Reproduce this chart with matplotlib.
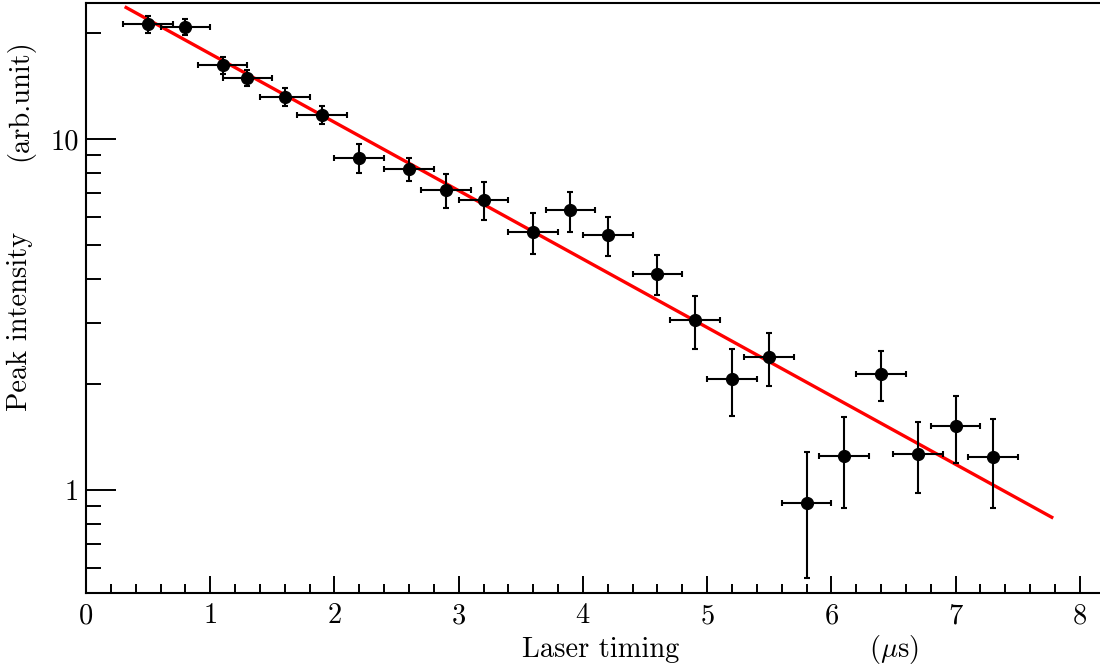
import matplotlib
matplotlib.use("Agg")
import matplotlib.pyplot as plt
from matplotlib.ticker import FixedLocator, NullFormatter, FixedFormatter

plt.rcParams['font.family'] = 'serif'
plt.rcParams['font.serif'] = ['cmr10']
plt.rcParams['mathtext.fontset'] = 'cm'
plt.rcParams['axes.formatter.use_mathtext'] = True

# laser timing (us) and peak intensity with errors
timing = [0.5, 0.8, 1.1, 1.3, 1.6, 1.9, 2.2, 2.6, 2.9, 3.2, 3.6, 3.9,
          4.2, 4.6, 4.9, 5.2, 5.5, 5.8, 6.1, 6.4, 6.7, 7.0, 7.3]
timing_err = [0.2] * len(timing)
intensity = [21.2, 20.9, 16.2, 14.95, 13.2, 11.7, 8.83, 8.21, 7.14, 6.70, 5.42, 6.26,
             5.32, 4.13, 3.05, 2.07, 2.39, 0.92, 1.25, 2.14, 1.27, 1.52, 1.24]
intensity_err = [1.2, 1.05, 0.9, 0.82, 0.77, 0.7, 0.84, 0.64, 0.79, 0.84, 0.73, 0.82,
                 0.67, 0.53, 0.53, 0.45, 0.41, 0.36, 0.36, 0.35, 0.29, 0.33, 0.35]

# exponential fit, straight on log scale: end points
fit_x = [0.323, 7.774]
fit_y = [23.7, 0.836]

fig = plt.figure(figsize=(11, 6.7), dpi=100)
ax = fig.add_axes([86/1100, 1 - 593/670, 1 - 86/1100 + 0.002, (593 - 3)/670])

ax.plot(fit_x, fit_y, color='#ff0000', lw=2.4, zorder=3)
ax.errorbar(timing, intensity, xerr=timing_err, yerr=intensity_err,
            fmt='o', color='black', ms=8.5, elinewidth=1.5, capsize=2.3,
            capthick=1.5, zorder=4)

ax.set_yscale('log')
ax.set_xlim(0, 8.18)
ax.set_ylim(0.5087, 24.41)

ax.xaxis.set_major_locator(FixedLocator(range(0, 9)))
ax.xaxis.set_minor_locator(FixedLocator([i * 0.2 for i in range(0, 41) if i % 5 != 0]))
ax.yaxis.set_major_locator(FixedLocator([1, 10]))
ax.yaxis.set_major_formatter(FixedFormatter(['1', '10']))
ax.yaxis.set_minor_locator(FixedLocator([0.6, 0.7, 0.8, 0.9, 2, 3, 4, 5, 6, 7, 8, 9, 20]))
ax.yaxis.set_minor_formatter(NullFormatter())

ax.tick_params(axis='both', which='both', direction='in', width=1.4,
               labelsize=20.5, top=False, right=False)
ax.tick_params(axis='x', which='major', length=12, pad=7)
ax.tick_params(axis='x', which='minor', length=6.5)
ax.tick_params(axis='y', which='major', length=21.5, pad=5)
ax.tick_params(axis='y', which='minor', length=10.5)

for s in ax.spines.values():
    s.set_linewidth(1.5)
ax.spines['right'].set_visible(False)

fig.text(601/1100, 1 - 650/670, 'Laser timing', ha='center', va='center', fontsize=20.5)
fig.text(894/1100, 1 - 650/670, r'($\mu$s)', ha='center', va='center', fontsize=20.5)
fig.text(20/1100, 1 - 321/670, 'Peak intensity', ha='center', va='center',
         rotation=90, fontsize=20.5)
fig.text(20/1100, 1 - 100/670, '(arb.unit)', ha='center', va='center',
         rotation=90, fontsize=20.5)

fig.savefig('out.png', dpi=100)
